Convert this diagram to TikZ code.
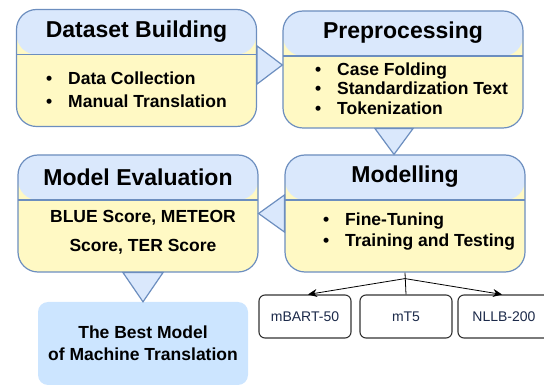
\documentclass[tikz,border=0pt]{standalone}
\usepackage{fontspec}
\setmainfont{Liberation Sans}
\usetikzlibrary{arrows.meta,calc}
\definecolor{headblue}{HTML}{DAE8FC}
\definecolor{bodyyellow}{HTML}{FFF9C4}
\definecolor{stageline}{HTML}{6C8EBF}
\definecolor{bestblue}{HTML}{CCE5FF}
\definecolor{modelink}{HTML}{1C2A4A}
\newcommand{\bul}{\makebox[22pt][l]{\textbullet}}
\tikzset{
  stage/.style={draw=stageline, line width=1.2pt, fill=bodyyellow, rounded corners=20pt,
    minimum width=240pt, minimum height=117pt, inner sep=0pt,
    path picture={
      \fill[headblue] (path picture bounding box.north west) rectangle ([yshift=-45pt]path picture bounding box.north east);
      \draw[stageline, line width=1.2pt] ([yshift=-45pt]path picture bounding box.north west) -- ([yshift=-45pt]path picture bounding box.north east);
    }},
  headtext/.style={font=\bfseries\fontsize{23}{26}\selectfont, inner sep=0pt},
  bodytext/.style={font=\bfseries\fontsize{17.5}{#1}\selectfont, align=left, inner sep=0pt, anchor=west},
  tri/.style={fill=headblue, draw=stageline, line width=1.2pt, line join=miter},
  modelbox/.style={draw=black!80, line width=1.1pt, rounded corners=6pt, fill=white,
    minimum width=92pt, minimum height=43pt, text=modelink, font=\fontsize{14}{16}\selectfont},
  arr/.style={thick, -{Stealth[length=9pt,width=8pt]}},
}
\begin{document}
\begin{tikzpicture}[x=1pt,y=-1pt]
  \useasboundingbox (0,0) rectangle (544,387);
  \clip (0,0) rectangle (544,387);

  \node[stage] (ds) at (136.5,68) {};
  \node[stage] (pre) at (403,69.5) {};
  \node[stage] (eval) at (138,213.5) {};
  \node[stage] (mod) at (405,213.5) {};

  \node[headtext] (dstitle) at ([yshift=-22.5pt]ds.north) {Dataset Building};
  \node[headtext] (pretitle) at ([yshift=-22.5pt]pre.north) {Preprocessing};
  \node[headtext] (evaltitle) at ([yshift=-22.5pt]eval.north) {Model Evaluation};
  \node[headtext] (modtitle) at ([yshift=-22.5pt]mod.north) {Modelling};

  \node[bodytext=23] (dsitems) at (46,89.5) {\bul Data Collection\\\bul Manual Translation};
  \node[bodytext=19.5] (preitems) at (315,88.5) {\bul Case Folding\\\bul Standardization Text\\\bul Tokenization};
  \node[bodytext=21] (moditems) at (323,231.5) {\bul Fine-Tuning\\\bul Training and Testing};
  \node[bodytext=29, anchor=center, align=center] (evalitems) at (143,232.5) {BLUE Score, METEOR\\Score, TER Score};

  \node[fill=bestblue, rounded corners=10pt, minimum width=210pt, minimum height=83pt,
    align=center, font=\bfseries\fontsize{17.5}{22}\selectfont] (best) at (143,343.5)
    {The Best Model\\of Machine Translation};

  \node[modelbox] (mbart) at (305,316.5) {mBART-50};
  \node[modelbox] (mt5) at (406,316.5) {mT5};
  \node[modelbox] (nllb) at (504,316.5) {NLLB-200};

  \filldraw[tri] ([yshift=22pt]ds.east) -- ([yshift=-16pt]ds.east) -- ([yshift=4.5pt]pre.west) -- cycle;
  \filldraw[tri] ([xshift=-28pt]pre.south) -- ([xshift=10pt]pre.south) -- ([xshift=-11pt]mod.north) -- cycle;
  \filldraw[tri] ([yshift=18.5pt]mod.west) -- ([yshift=-18.5pt]mod.west) -- (eval.east) -- cycle;
  \filldraw[tri] ([xshift=-15pt]eval.south) -- ([xshift=25pt]eval.south) -- (best.north) -- cycle;

  \coordinate (fork) at ($(mod.south)+(0,6)$);
  \draw[thick] (mod.south) -- (mt5.north);
  \draw[arr] (fork) -- ([xshift=3pt]mbart.north);
  \draw[arr] (fork) -- ([xshift=-2pt]nllb.north);
\end{tikzpicture}
\end{document}
